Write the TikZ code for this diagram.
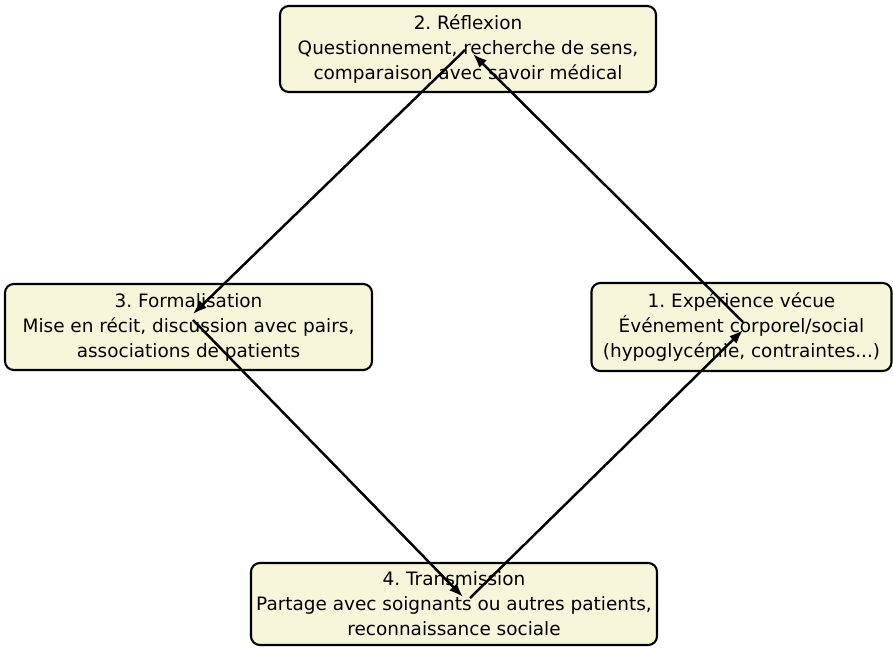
\documentclass[tikz,border=0pt]{standalone}
\usepackage{fontspec}
\setmainfont{DejaVu Sans}
\usetikzlibrary{arrows.meta}
\definecolor{boxfill}{HTML}{F7F6DA}
\frenchspacing
\tikzset{
  stage/.style={draw=black, line width=1.2pt, fill=boxfill, rounded corners=5pt,
    align=center, inner sep=0pt, font=\fontsize{10.5}{14.2}\selectfont},
  flow/.style={line width=1.4pt, -{Latex[length=2.8mm,width=2.1mm]}}
}
\begin{document}
\begin{tikzpicture}[x=0.02cm,y=-0.02cm]
\useasboundingbox (0,0) rectangle (893,648);
% the four stages of the cycle
\node[stage, minimum width=376*0.02cm, minimum height=86*0.02cm] (refl) at (468,49)
  {2. Réflexion\\Questionnement, recherche de sens,\\comparaison avec savoir médical};
\node[stage, minimum width=367*0.02cm, minimum height=86*0.02cm] (form) at (188.5,327)
  {3. Formalisation\\Mise en récit, discussion avec pairs,\\associations de patients};
\node[stage, minimum width=300*0.02cm, minimum height=88*0.02cm] (exp) at (741.5,327)
  {1. Expérience vécue\\Événement corporel/social\\(hypoglycémie, contraintes...)};
\node[stage, minimum width=406*0.02cm, minimum height=82*0.02cm] (trans) at (454,604)
  {4. Transmission\\Partage avec soignants ou autres patients,\\reconnaissance sociale};
% arrow end points, slightly off the box centres
\coordinate (e1out) at ([shift={(1.5,-5)}]exp.center);
\coordinate (e1in)  at ([shift={(1.5,3)}]exp.center);
\coordinate (r2in)  at ([shift={(5,5)}]refl.center);
\coordinate (r2out) at ([shift={(-3,1)}]refl.center);
\coordinate (f3in)  at ([shift={(4.5,-13)}]form.center);
\coordinate (f3out) at ([shift={(4.5,-7)}]form.center);
\coordinate (t4in)  at ([shift={(9,-7)}]trans.center);
\coordinate (t4out) at ([shift={(16,-6)}]trans.center);
% the cycle
\draw[flow] (e1out) -- (r2in);
\draw[flow] (r2out) -- (f3in);
\draw[flow] (f3out) -- (t4in);
\draw[flow] (t4out) -- (e1in);
\end{tikzpicture}
\end{document}
